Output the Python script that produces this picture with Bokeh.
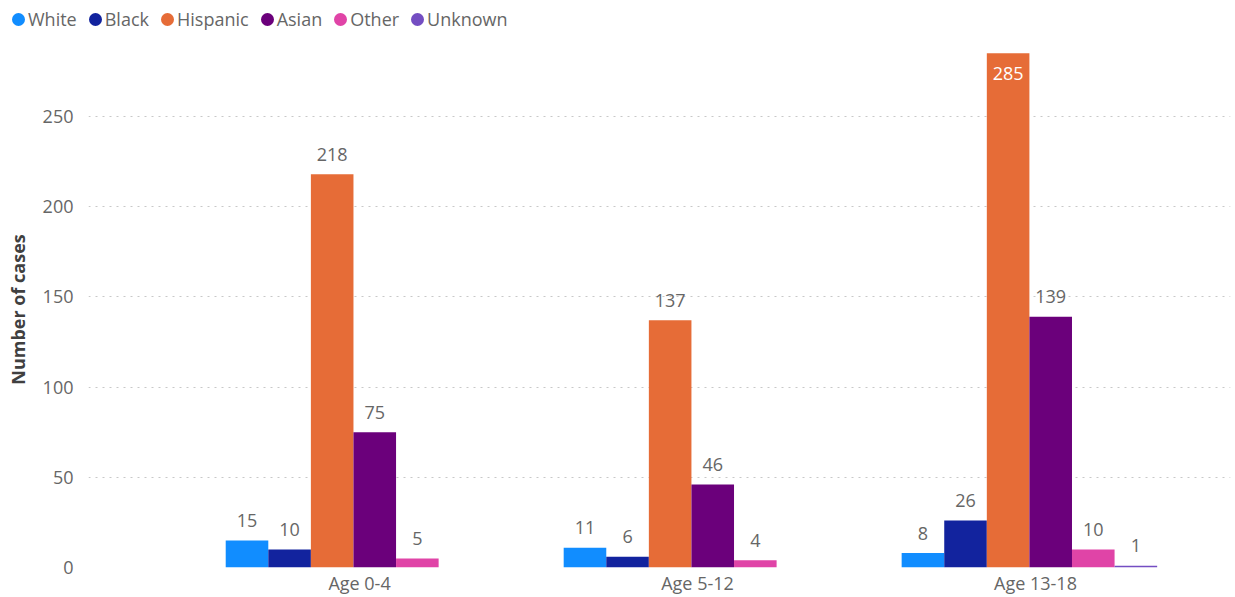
import numpy as np
from bokeh.plotting import figure
from bokeh.layouts import column
from bokeh.models import (ColumnDataSource, Range1d, FixedTicker, SingleIntervalTicker,
                          Legend, LegendItem)
from bokeh.core.properties import value
from bokeh.embed import file_html
from bokeh.resources import INLINE

# ---- data ----
categories = ["Age 0-4", "Age 5-12", "Age 13-18"]
series_names = ["White", "Black", "Hispanic", "Asian", "Other", "Unknown"]
white = [15, 11, 8]
black = [10, 6, 26]
hispanic = [218, 137, 285]
asian = [75, 46, 139]
other = [5, 4, 10]
unknown = [None, None, 1]
colors = ["#118DFF", "#12239E", "#E66C37", "#6B007B", "#E044A7", "#744EC2"]
y_ticks_interval = 50

series_values = [white, black, hispanic, asian, other, unknown]

FONT = "Open Sans"
TXT = "#666666"
W, H = 1235, 597
LEG_H = 43

# ---- legend strip ----
lg = figure(width=W, height=LEG_H, output_backend="svg", toolbar_location=None,
            x_axis_location=None, y_axis_location=None,
            x_range=Range1d(0, 1), y_range=Range1d(0, 1), min_border=0)
lg.frame_align = False
lg.outline_line_color = None
lg.xgrid.grid_line_color = None
lg.ygrid.grid_line_color = None
legend_items = []
for name, col in zip(series_names, colors):
    # invisible proxy (NaN point); thick outline enlarges the legend circle
    dummy = lg.scatter(x=[np.nan], y=[np.nan], marker="circle", fill_color=col,
                       line_color=col, line_width=5)
    legend_items.append(LegendItem(label=name, renderers=[dummy]))
legend = Legend(items=legend_items, orientation="horizontal", location=(8, 12),
                glyph_width=20, glyph_height=20, label_height=20, label_standoff=0,
                spacing=8, padding=0, margin=0, border_line_color=None,
                background_fill_alpha=0,
                label_text_font=FONT, label_text_font_size="18px", label_text_color=TXT)
lg.add_layout(legend, "center")

# ---- main chart ----
y_max = 286
p = figure(width=W, height=H - LEG_H, output_backend="svg", toolbar_location=None,
           x_range=Range1d(-0.784, 2.595), y_range=Range1d(0, y_max),
           min_border_left=88, min_border_right=5, min_border_top=51 - LEG_H, min_border_bottom=0)
p.frame_align = False
p.outline_line_color = None
p.background_fill_color = "white"

slot = 0.126
n = len(series_names)
for k, (name, vals, col) in enumerate(zip(series_names, series_values, colors)):
    off = (k - (n - 1) / 2) * slot
    xs, ys = [], []
    for i, v in enumerate(vals):
        if v is not None:
            xs.append(i + off)
            ys.append(v)
    src = ColumnDataSource(dict(x=xs, top=ys))
    p.vbar(x="x", top="top", bottom=0, width=slot, source=src, fill_color=col, line_color=None)
    out_idx = [j for j, v in enumerate(ys) if v <= y_max - 20]
    in_idx = [j for j, v in enumerate(ys) if v > y_max - 20]
    if out_idx:
        s_out = ColumnDataSource(dict(x=[xs[j] for j in out_idx], y=[ys[j] for j in out_idx],
                                      label=[str(ys[j]) for j in out_idx]))
        p.text(x="x", y="y", text="label", source=s_out, text_align="center",
               text_baseline="alphabetic", y_offset=-20, text_font=value(FONT),
               text_font_size="18px", text_color=TXT)
    if in_idx:
        s_in = ColumnDataSource(dict(x=[xs[j] for j in in_idx], y=[ys[j] for j in in_idx],
                                     label=[str(ys[j]) for j in in_idx]))
        p.text(x="x", y="y", text="label", source=s_in, text_align="center",
               text_baseline="alphabetic", y_offset=20, text_font=value(FONT),
               text_font_size="18px", text_color="white")

# x axis
label_shift = 0.018
xa = p.xaxis[0]
xa.ticker = FixedTicker(ticks=[i + label_shift for i in range(len(categories))])
xa.major_label_overrides = {i + label_shift: c for i, c in enumerate(categories)}
xa.axis_line_color = None
xa.major_tick_line_color = None
xa.minor_tick_line_color = None
xa.major_tick_out = 0
xa.minor_tick_out = 0
xa.major_label_standoff = 3
xa.major_label_text_font = FONT
xa.major_label_text_font_size = "18px"
xa.major_label_text_color = TXT

# y axis
ya = p.yaxis[0]
ya.ticker = SingleIntervalTicker(interval=y_ticks_interval)
ya.axis_line_color = None
ya.major_tick_line_color = None
ya.minor_tick_line_color = None
ya.major_tick_out = 0
ya.minor_tick_out = 0
ya.major_label_standoff = 15
ya.major_label_text_font = FONT
ya.major_label_text_font_size = "18px"
ya.major_label_text_color = TXT
ya.axis_label = "Number of cases"
ya.axis_label_standoff = 10
ya.axis_label_text_font = FONT
ya.axis_label_text_font_size = "18px"
ya.axis_label_text_font_style = "bold"
ya.axis_label_text_color = "#404040"

p.xgrid.grid_line_color = None
p.ygrid.grid_line_color = "#C8C8C8"
p.ygrid.grid_line_dash = "2 5"
p.ygrid.grid_line_width = 1

open("out.html", "w").write(file_html(column(lg, p, spacing=0), INLINE))
